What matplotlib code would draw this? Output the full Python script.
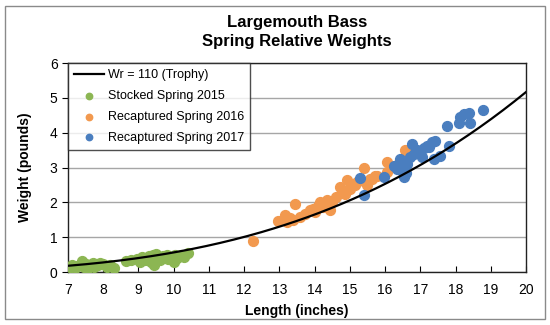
import numpy as np
import matplotlib
matplotlib.use("Agg")
import matplotlib.pyplot as plt
from matplotlib.patches import Rectangle

plt.rcParams['font.family'] = ['Liberation Sans', 'DejaVu Sans']

# Wr = 110 (trophy) curve: log10(W) = a + b*log10(L)
wr_a = -3.45
wr_b = 3.2
curve_len = np.linspace(7, 20, 200)

stocked_len = [7.05, 7.1, 7.2, 7.25, 7.35, 7.4, 7.45, 7.5, 7.55, 7.6, 7.7, 7.75,
               7.85, 7.9, 8.0, 8.1, 8.2, 8.3, 8.65, 8.8, 8.95, 9.05, 9.1, 9.2,
               9.3, 9.35, 9.4, 9.45, 9.5, 9.55, 9.6, 9.7, 9.8, 9.85, 9.9, 10.0,
               10.05, 10.1, 10.2, 10.3, 10.4]
stocked_wt = [0.15, 0.2, 0.12, 0.18, 0.2, 0.32, 0.15, 0.22, 0.1, 0.18, 0.25, 0.15,
              0.2, 0.26, 0.22, 0.15, 0.2, 0.12, 0.33, 0.35, 0.38, 0.3, 0.42, 0.35,
              0.45, 0.3, 0.48, 0.2, 0.52, 0.4, 0.35, 0.45, 0.5, 0.38, 0.42, 0.3,
              0.48, 0.4, 0.5, 0.42, 0.55]

recap16_len = [12.25, 12.95, 13.16, 13.21, 13.45, 13.4, 13.59, 13.73, 13.88, 14.02,
               14.16, 14.25, 14.35, 14.44, 14.49, 14.73, 14.78, 14.87, 14.92, 15.01,
               15.15, 15.2, 15.39, 15.49, 15.58, 15.63, 15.72, 15.77, 16.05, 16.05,
               16.34, 16.57, 13.3, 13.95, 14.1, 14.6]
recap16_wt = [0.9, 1.46, 1.63, 1.44, 1.96, 1.49, 1.58, 1.68, 1.77, 1.72,
              2.01, 1.87, 2.06, 1.77, 2.01, 2.44, 2.34, 2.25, 2.63, 2.39,
              2.49, 2.58, 2.99, 2.49, 2.68, 2.68, 2.77, 2.77, 3.15, 2.87,
              3.06, 3.5, 1.55, 1.82, 1.9, 2.15]

recap17_len = [15.3, 15.39, 15.96, 16.24, 16.43, 16.48, 16.53, 16.62, 16.76, 16.81,
               16.95, 17.05, 17.19, 17.33, 17.43, 17.38, 17.57, 17.76, 17.8, 18.09,
               18.14, 18.23, 18.37, 18.42, 18.78, 16.35, 16.5, 16.6, 16.7, 16.9,
               17.1, 17.25]
recap17_wt = [2.7, 2.2, 2.74, 3.03, 3.25, 2.91, 2.72, 3.1, 3.68, 3.39,
              3.44, 3.29, 3.63, 3.72, 3.77, 3.25, 3.34, 4.2, 3.63, 4.29,
              4.44, 4.53, 4.58, 4.29, 4.66, 2.95, 3.05, 2.85, 3.3, 3.5,
              3.55, 3.6]

green = '#8cb653'
orange = '#f2994f'
blue = '#4a7ebf'

fig = plt.figure(figsize=(5.5, 3.25), dpi=100)
ax = fig.add_axes([0.1236, 0.163, 0.8328, 0.643])

curve_wt = 10 ** (wr_a + wr_b * np.log10(curve_len))
ax.plot(curve_len, curve_wt, color='black', lw=1.6, label='Wr = 110 (Trophy)', zorder=4)
ax.scatter(stocked_len, stocked_wt, s=50, color=green, label='Stocked Spring 2015', zorder=3)
ax.scatter(recap16_len, recap16_wt, s=50, color=orange, label='Recaptured Spring 2016', zorder=3)
ax.scatter(recap17_len, recap17_wt, s=50, color=blue, label='Recaptured Spring 2017', zorder=3)

ax.set_xlim(7, 20)
ax.set_ylim(0, 6)
ax.set_xticks(range(7, 21))
ax.set_yticks(range(0, 7))
ax.grid(axis='y', color='#a6a6a6', lw=1)
ax.set_axisbelow(True)
ax.tick_params(axis='x', direction='in', length=4, labelsize=10, pad=8)
ax.tick_params(axis='y', direction='out', length=4, labelsize=10)
for sp in ax.spines.values():
    sp.set_color('#222222')
    sp.set_linewidth(1)

ax.set_xlabel('Length (inches)', fontsize=10, fontweight='bold', labelpad=5)
ax.set_ylabel('Weight (pounds)', fontsize=10, fontweight='bold', labelpad=13)
ax.set_title('Largemouth Bass\nSpring Relative Weights', fontsize=12, fontweight='bold',
             linespacing=1.35, pad=12)

leg = ax.legend(loc='upper left', fontsize=9, frameon=True, fancybox=False,
                edgecolor='#222222', borderaxespad=0, handlelength=2.4,
                handletextpad=0.3, labelspacing=0.7, borderpad=0.5,
                scatterpoints=1, markerscale=0.65)
leg.get_frame().set_linewidth(1)

# thin grey border round the whole picture
fig.patches.append(Rectangle((5 / 550, 6 / 325), 540 / 550, 313 / 325,
                             transform=fig.transFigure, fill=False,
                             edgecolor='#8a8a8a', lw=1))

fig.savefig('out.png', dpi=100)
